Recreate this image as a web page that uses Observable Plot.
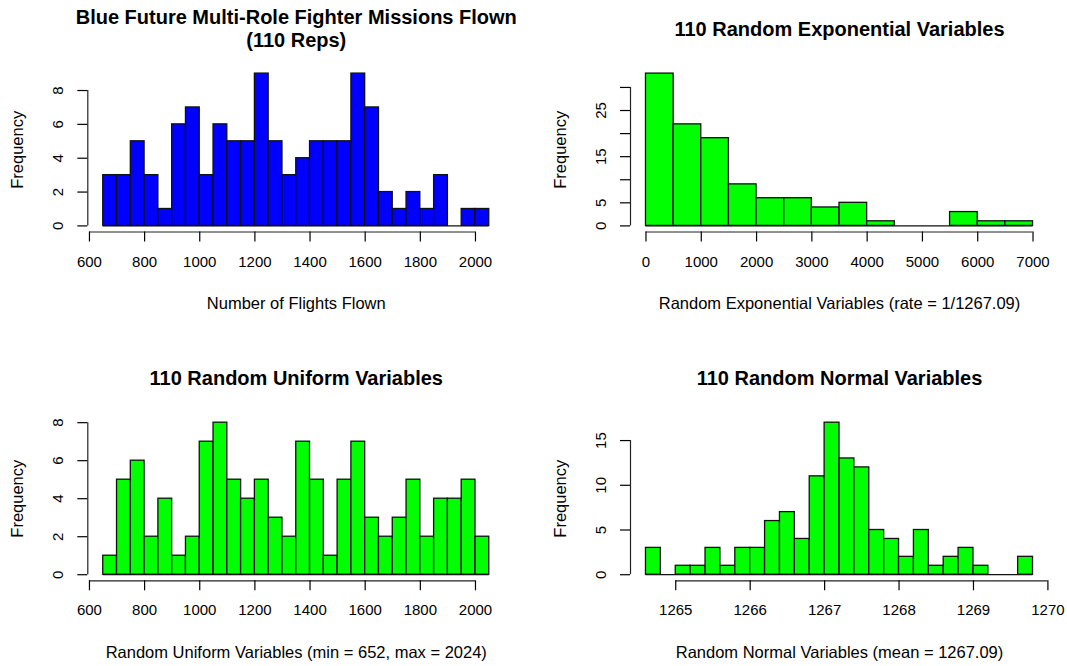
<!DOCTYPE html>
<html>
<head>
<meta charset="utf-8">
<script src="https://cdn.jsdelivr.net/npm/d3@7"></script>
<script src="https://cdn.jsdelivr.net/npm/@observablehq/plot@0.6"></script>
<style>
  body { margin: 0; background: #fff; }
  #chart { position: relative; width: 1067px; height: 666px; background: #fff; }
  #chart svg { position: absolute; overflow: visible; }
</style>
</head>
<body>
<div id="chart"></div>
<script>
// Missions flown per replication, binned by 50 flights
const flightBreaks = d3.range(650, 2051, 50);
const flightCounts = [3, 3, 5, 3, 1, 6, 7, 3, 6, 5, 5, 9, 5, 3, 4, 5, 5, 5, 9, 7, 2, 1, 2, 1, 3, 0, 1, 1];
const flightXTicks = [600, 800, 1000, 1200, 1400, 1600, 1800, 2000];
const flightYTicks = [0, 2, 4, 6, 8];

// Exponential draws, binned by 500
const expBreaks = d3.range(0, 7001, 500);
const expCounts = [33, 22, 19, 9, 6, 6, 4, 5, 1, 0, 0, 3, 1, 1];
const expXTicks = [0, 1000, 2000, 3000, 4000, 5000, 6000, 7000];
const expYTicks = [0, 5, 10, 15, 20, 25, 30];
const expYLabels = [0, 5, 15, 25];

// Uniform draws, binned by 50
const unifBreaks = d3.range(650, 2051, 50);
const unifCounts = [1, 5, 6, 2, 4, 1, 2, 7, 8, 5, 4, 5, 3, 2, 7, 5, 1, 5, 7, 3, 2, 3, 5, 2, 4, 4, 5, 2];
const unifXTicks = [600, 800, 1000, 1200, 1400, 1600, 1800, 2000];
const unifYTicks = [0, 2, 4, 6, 8];

// Normal draws, binned by 0.2
const normBreaks = d3.range(27).map(i => +(1264.6 + i * 0.2).toFixed(1));
const normCounts = [3, 0, 1, 1, 3, 1, 3, 3, 6, 7, 4, 11, 17, 13, 12, 5, 4, 2, 5, 1, 2, 3, 1, 0, 0, 2];
const normXTicks = [1265, 1266, 1267, 1268, 1269, 1270];
const normYTicks = [0, 5, 10, 15];

const titles = [
  "Blue Future Multi-Role Fighter Missions Flown\n(110 Reps)",
  "110 Random Exponential Variables",
  "110 Random Uniform Variables",
  "110 Random Normal Variables"
];
const xLabels = [
  "Number of Flights Flown",
  "Random Exponential Variables (rate = 1/1267.09)",
  "Random Uniform Variables (min = 652, max = 2024)",
  "Random Normal Variables (mean = 1267.09)"
];
const yLabel = "Frequency";

const FONT = '"Liberation Sans", Arial, Helvetica, sans-serif';
const chart = document.getElementById("chart");

// Draws one base-graphics style histogram into its quadrant of the page.
function histogram({breaks, counts, fill, title, xLabel, xTicks, yTicks, yLabels = yTicks, box}) {
  const bins = counts.map((c, i) => ({x0: breaks[i], x1: breaks[i + 1], count: c}));
  const lo = breaks[0], hi = breaks[breaks.length - 1];
  const padX = 0.04 * (hi - lo);
  const ymax = d3.max(counts);
  const padY = 0.04 * ymax;
  const shown = new Set(yLabels);
  const {left, top, width, height, plotLeft, plotRight, plotTop, plotBottom} = box;

  const svg = Plot.plot({
    width, height,
    marginLeft: plotLeft - left,
    marginRight: left + width - plotRight,
    marginTop: plotTop - top,
    marginBottom: top + height - plotBottom,
    style: {fontFamily: FONT, fontSize: "15px", color: "#000", background: "transparent", overflow: "visible"},
    x: {domain: [lo - padX, hi + padX]},
    y: {domain: [-padY, ymax + padY]},
    marks: [
      Plot.rectY(bins, {x1: "x0", x2: "x1", y: "count", fill, stroke: "#111", strokeWidth: 1.3}),
      Plot.ruleY([0], {x1: lo, x2: hi, stroke: "#111", strokeWidth: 1.3}),
      // axis lines span first to last tick
      Plot.ruleY([-padY], {x1: xTicks[0], x2: xTicks[xTicks.length - 1], stroke: "#222", strokeWidth: 1.2}),
      Plot.ruleX([lo - padX], {y1: yTicks[0], y2: yTicks[yTicks.length - 1], stroke: "#222", strokeWidth: 1.2}),
      Plot.axisX({ticks: xTicks, anchor: "bottom", tickSize: 10, tickPadding: 14, strokeWidth: 1.2,
        tickFormat: d => String(d), label: null, fontSize: 15}),
      Plot.axisY({ticks: yTicks, anchor: "left", tickSize: 10, tickPadding: 15, tickRotate: -90, strokeWidth: 1.2,
        tickFormat: d => shown.has(d) ? String(d) : "", label: null, fontSize: 15}),
      Plot.text([title], {frameAnchor: "top", dy: title.includes("\n") ? -21 : -32, lineAnchor: "bottom",
        lineHeight: 1.15, fontSize: 20, fontWeight: "bold", fill: "#000"}),
      Plot.text([xLabel], {frameAnchor: "bottom", dy: 77, lineAnchor: "bottom", fontSize: 16.5, fill: "#000"}),
      Plot.text([yLabel], {frameAnchor: "left", dx: -64.6, rotate: -90, textAnchor: "middle", lineAnchor: "bottom",
        fontSize: 16.5, fill: "#000"})
    ]
  });
  svg.style.left = left + "px";
  svg.style.top = top + "px";
  chart.appendChild(svg);
}

const topRow = {top: 0, height: 333, plotTop: 67, plotBottom: 231.5};
const bottomRow = {top: 333, height: 333, plotTop: 416.1, plotBottom: 580.3};
const leftCol = {left: 0, width: 533, plotLeft: 87.3, plotRight: 504.2};
const rightCol = {left: 533, width: 534, plotLeft: 630, plotRight: 1048};

histogram({breaks: flightBreaks, counts: flightCounts, fill: "#0000ff", title: titles[0], xLabel: xLabels[0],
  xTicks: flightXTicks, yTicks: flightYTicks, box: {...topRow, ...leftCol}});
histogram({breaks: expBreaks, counts: expCounts, fill: "#00ff00", title: titles[1], xLabel: xLabels[1],
  xTicks: expXTicks, yTicks: expYTicks, yLabels: expYLabels, box: {...topRow, ...rightCol}});
histogram({breaks: unifBreaks, counts: unifCounts, fill: "#00ff00", title: titles[2], xLabel: xLabels[2],
  xTicks: unifXTicks, yTicks: unifYTicks, box: {...bottomRow, ...leftCol}});
histogram({breaks: normBreaks, counts: normCounts, fill: "#00ff00", title: titles[3], xLabel: xLabels[3],
  xTicks: normXTicks, yTicks: normYTicks, box: {...bottomRow, ...rightCol}});
</script>
</body>
</html>
